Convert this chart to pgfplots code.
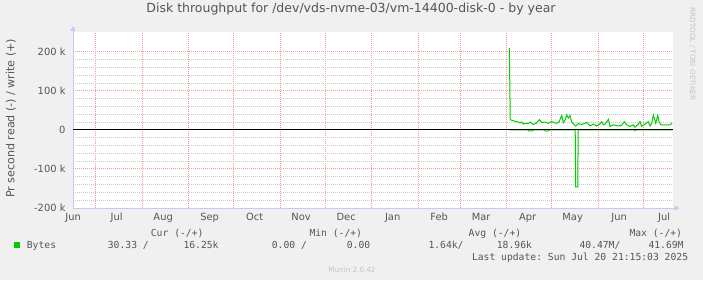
\documentclass[border=0pt]{standalone}
\usepackage{fontspec}
\setmainfont{DejaVu Sans}
\setmonofont{DejaVu Sans Mono}
\usepackage{pgfplots}
\pgfplotsset{compat=1.18}
\usetikzlibrary{arrows.meta}

\definecolor{bg}{HTML}{F0F0F0}
\definecolor{majgrid}{HTML}{F09A9A}
\definecolor{mingrid}{HTML}{C8C8C8}
\definecolor{axiscol}{HTML}{C8C8F2}
\definecolor{txt}{HTML}{555555}
\definecolor{wm}{HTML}{C4C4C4}
\definecolor{bytes}{HTML}{00CC00}

\newcommand\axfont{\fontsize{9.9bp}{11bp}\selectfont}
\newcommand\titlefont{\fontsize{12.5bp}{14bp}\selectfont}
\newcommand\unitfont{\fontsize{11.1bp}{13bp}\selectfont}
\newcommand\legfont{\ttfamily\fontsize{9.7bp}{11bp}\selectfont}
\newcommand\wmfont{\fontsize{7.2bp}{8bp}\selectfont}

% x = days since 2024-06-01, y = bytes per second
\pgfplotstableread{
day   write
305.8 210000
306.4 26000
307.4 25000
309.6 22000
311.8 20000
312.9 18000
314.0 20000
315.1 15000
316.2 17000
318.4 16000
319.6 20000
321.8 14000
323.6 17000
325.8 26000
327.4 19000
329.6 20000
331.8 17000
334.0 22000
335.1 19000
337.4 17000
339.1 22000
340.7 37000
341.8 18000
342.9 25000
344.0 38000
345.1 30000
346.2 37000
347.4 20000
348.9 14000
350.2 10000
351.8 16000
354.0 14000
356.2 17000
357.4 19000
359.6 10000
361.8 15000
364.0 10000
366.2 15000
367.4 21000
368.4 13000
369.6 15000
371.8 27000
372.9 9000
375.1 13000
378.4 10000
380.7 12000
382.4 21000
384.0 13000
386.2 9000
388.4 13000
389.6 7000
391.8 15000
392.9 21000
394.0 9000
396.2 15000
398.4 21000
399.6 10000
400.7 17000
401.8 38000
403.4 17000
404.7 37000
405.6 21000
406.9 13000
409.6 13000
412.9 13000
414.4 17000
}\writetable

\pgfplotstableread{
day   read
305.8 0
318.0 0
318.6 -2500
321.2 -2500
321.8 0
329.0 0
329.6 -2500
332.0 -2500
332.6 0
349.7 0
350.0 -146000
351.4 -146000
351.7 0
389.0 0
389.6 -2000
390.2 0
414.4 0
}\readtable

\begin{document}
\begin{tikzpicture}[x=1bp,y=1bp]
\fill[bg] (0,0) rectangle (703,280);
\begin{axis}[
  name=ax,
  at={(73bp,72bp)}, anchor=south west,
  scale only axis, width=600bp, height=175.7bp,
  xmin=14.9, xmax=414.9, ymin=-200000, ymax=250000,
  axis background/.style={fill=white},
  axis x line*=bottom, axis y line*=left,
  axis line style={axiscol, line width=1bp},
  xtick={30,61,92,122,153,183,214,245,273,304,334,365,395},
  xticklabels={},
  extra x ticks={15,44,75,106,136,167,197,228,259,287,318,348,379,409},
  extra x tick labels={Jun,Jul,Aug,Sep,Oct,Nov,Dec,Jan,Feb,Mar,Apr,May,Jun,Jul},
  extra x tick style={grid=none, major tick length=0pt},
  ytick={-200000,-100000,0,100000,200000},
  yticklabels={-200 k,-100 k,0,100 k,200 k},
  scaled y ticks=false,
  minor y tick num=4,
  xmajorgrids, ymajorgrids, yminorgrids,
  major grid style={majgrid, line width=1bp, dash pattern=on 1bp off 1bp},
  minor grid style={mingrid, line width=1bp, dash pattern=on 1bp off 1bp},
  major tick length=0pt, minor tick length=0pt,
  tick label style={font=\axfont, text=txt},
  xticklabel style={anchor=base, inner sep=0pt, yshift=-12.9bp},
  yticklabel style={anchor=east, inner sep=0pt, xshift=-7.3bp},
  title={Disk throughput for /dev/vds-nvme-03/vm-14400-disk-0 - by year},
  title style={font=\titlefont, text=txt, at={(axis description cs:0.4633,1)}, anchor=base, inner sep=0pt, yshift=13.9bp},
  ylabel={Pr second read (-) / write (+)},
  ylabel style={font=\unitfont, text=txt, at={(axis description cs:-0.1037,0.5105)}, anchor=center, inner sep=0pt},
]
\addplot[bytes, line width=1bp] table[x=day, y=read] {\readtable};
\addplot[bytes, line width=1bp] table[x=day, y=write] {\writetable};
\addplot[black, line width=1bp] coordinates {(14.9,0) (414.9,0)};
\end{axis}

% axis arrow heads
\draw[axiscol, line width=1bp, -{Triangle[length=5bp,width=5bp]}] (ax.south east) -- ++(6.5,0);
\draw[axiscol, line width=1bp, -{Triangle[length=5bp,width=5bp]}] (ax.north west) -- ++(0,6.3);

% legend block
\begin{scope}[every node/.style={inner sep=0pt, text=txt, font=\legfont}]
\node[anchor=base west] at (150.7,44) {Cur (-/+)};
\node[anchor=base west] at (309.3,44) {Min (-/+)};
\node[anchor=base west] at (468.5,44) {Avg (-/+)};
\node[anchor=base west] at (629.3,44) {Max (-/+)};
\fill[bytes] (14,32.3) rectangle (20,37.7);
\node[anchor=base west] at (26.7,31.7) {Bytes};
\node[anchor=base west] at (107.7,31.7) {30.33 /};
\node[anchor=base west] at (183.3,31.7) {16.25k};
\node[anchor=base west] at (271.7,31.7) {0.00 /};
\node[anchor=base west] at (346.7,31.7) {0.00};
\node[anchor=base west] at (428.3,31.7) {1.64k/};
\node[anchor=base west] at (496.7,31.7) {18.96k};
\node[anchor=base west] at (579.3,31.7) {40.47M/};
\node[anchor=base west] at (648.3,31.7) {41.69M};
\node[anchor=base east] at (688.3,20) {Last update: Sun Jul 20 21:15:03 2025};
\end{scope}

\node[inner sep=0pt, anchor=base, text=wm, font=\wmfont] at (352,7.5) {Munin 2.0.42};
\node[inner sep=0pt, rotate=-90, text=wm, font=\wmfont] at (692.5,226) {RRDTOOL / TOBI OETIKER};

\pgfresetboundingbox
\path[use as bounding box] (0,0) rectangle (703,280);
\end{tikzpicture}
\end{document}
